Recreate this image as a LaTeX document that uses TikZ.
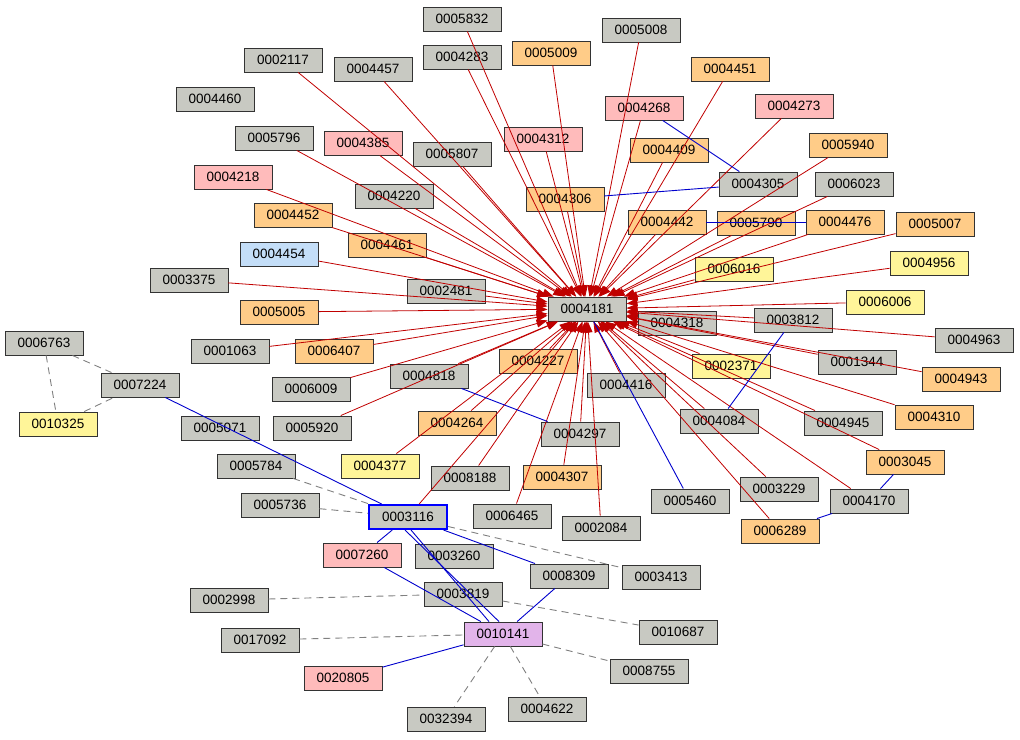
\documentclass[tikz,border=0pt]{standalone}
\usepackage{fontspec}
\setmainfont{Liberation Sans}
\usetikzlibrary{arrows.meta}
\definecolor{cgr}{HTML}{C8C9C2}
\definecolor{cog}{HTML}{FFCC88}
\definecolor{cpk}{HTML}{FFBBBB}
\definecolor{cyl}{HTML}{FFF599}
\definecolor{cbl}{HTML}{C4DEF8}
\definecolor{cpu}{HTML}{E2B4EA}
\definecolor{cred}{HTML}{C00000}
\tikzset{
  box/.style={draw=black!80,line width=0.9pt,minimum width=78pt,minimum height=24pt,inner sep=0pt,font=\fontsize{13.5}{15}\selectfont},
  gr/.style={box,fill=cgr},
  og/.style={box,fill=cog},
  pk/.style={box,fill=cpk},
  yl/.style={box,fill=cyl},
  bl/.style={box,fill=cbl},
  pu/.style={box,fill=cpu},
  redl/.style={cred,line width=0.8pt,-{Triangle[length=11pt,width=8pt]}},
  bluel/.style={blue!80!black,line width=0.9pt},
  dashl/.style={gray,line width=0.9pt,dash pattern=on 7pt off 5pt}
}
\begin{document}
\begin{tikzpicture}[x=1pt,y=-1pt]
\useasboundingbox (0,0) rectangle (1020,739);
% nodes
\node[gr] (n4181) at (587,309) {0004181};
\node[gr] (n5832) at (462,19) {0005832};
\node[gr] (n5008) at (641,30) {0005008};
\node[gr] (n2117) at (283,60) {0002117};
\node[gr] (n4457) at (373,69) {0004457};
\node[gr] (n4283) at (462,57) {0004283};
\node[og] (n5009) at (551,53) {0005009};
\node[og] (n4451) at (730,69) {0004451};
\node[gr] (n4460) at (215,99) {0004460};
\node[pk] (n4268) at (644,108) {0004268};
\node[pk] (n4273) at (794,106) {0004273};
\node[gr] (n5796) at (274,138) {0005796};
\node[pk] (n4385) at (363,143) {0004385};
\node[pk] (n4312) at (543,139) {0004312};
\node[gr] (n5807) at (452,154) {0005807};
\node[og] (n4409) at (669,150) {0004409};
\node[og] (n5940) at (848,145) {0005940};
\node[pk] (n4218) at (233,177) {0004218};
\node[gr] (n4220) at (394,196) {0004220};
\node[og] (n4306) at (565,199) {0004306};
\node[gr] (n4305) at (758,184) {0004305};
\node[gr] (n6023) at (854,184) {0006023};
\node[og] (n4452) at (293,215) {0004452};
\node[og] (n4442) at (667,222) {0004442};
\node[og] (n5790) at (756,223) {0005790};
\node[og] (n4476) at (845,222) {0004476};
\node[og] (n5007) at (935,224) {0005007};
\node[og] (n4461) at (387,245) {0004461};
\node[bl] (n4454) at (279,254) {0004454};
\node[yl] (n6016) at (734,269) {0006016};
\node[yl] (n4956) at (929,263) {0004956};
\node[gr] (n3375) at (189,280) {0003375};
\node[gr] (n2481) at (446,291) {0002481};
\node[yl] (n6006) at (885,302) {0006006};
\node[og] (n5005) at (279,312) {0005005};
\node[gr] (n4318) at (677,323) {0004318};
\node[gr] (n3812) at (793,320) {0003812};
\node[gr] (n4963) at (974,340) {0004963};
\node[gr] (n6763) at (44,343) {0006763};
\node[gr] (n1063) at (230,351) {0001063};
\node[og] (n6407) at (334,351) {0006407};
\node[og] (n4227) at (538,361) {0004227};
\node[gr] (n1344) at (857,362) {0001344};
\node[yl] (n2371) at (731,366) {0002371};
\node[gr] (n4818) at (429,376) {0004818};
\node[og] (n4943) at (961,379) {0004943};
\node[gr] (n7224) at (140,385) {0007224};
\node[gr] (n6009) at (311,389) {0006009};
\node[gr] (n4416) at (626,385) {0004416};
\node[yl] (n10325) at (58,424) {0010325};
\node[gr] (n5071) at (220,428) {0005071};
\node[gr] (n5920) at (312,428) {0005920};
\node[og] (n4264) at (457,423) {0004264};
\node[gr] (n4297) at (580,434) {0004297};
\node[gr] (n4084) at (719,421) {0004084};
\node[gr] (n4945) at (843,423) {0004945};
\node[og] (n4310) at (934,417) {0004310};
\node[gr] (n5784) at (256,466) {0005784};
\node[yl] (n4377) at (380,466) {0004377};
\node[gr] (n8188) at (470,478) {0008188};
\node[og] (n4307) at (562,477) {0004307};
\node[og] (n3045) at (905,462) {0003045};
\node[gr] (n5736) at (280,505) {0005736};
\node[gr,draw=blue,line width=2pt] (n3116) at (408,517) {0003116};
\node[gr] (n6465) at (512,516) {0006465};
\node[gr] (n5460) at (690,501) {0005460};
\node[gr] (n3229) at (779,489) {0003229};
\node[gr] (n4170) at (869,501) {0004170};
\node[gr] (n2084) at (601,528) {0002084};
\node[og] (n6289) at (780,531) {0006289};
\node[pk] (n7260) at (362,555) {0007260};
\node[gr] (n3260) at (454,556) {0003260};
\node[gr] (n8309) at (569,576) {0008309};
\node[gr] (n3413) at (661,577) {0003413};
\node[gr] (n2998) at (229,600) {0002998};
\node[gr] (n3819) at (463,594) {0003819};
\node[gr] (n10687) at (678,632) {0010687};
\node[gr] (n17092) at (260,640) {0017092};
\node[pu] (n10141) at (503,634) {0010141};
\node[gr] (n8755) at (649,671) {0008755};
\node[pk] (n20805) at (343,678) {0020805};
\node[gr] (n32394) at (446,719) {0032394};
\node[gr] (n4622) at (547,709) {0004622};
% connectors
\foreach \s in {5832,5008,2117,4457,4283,5009,4451,4268,4273,5796,4385,4312,5807,4409,5940,4218,4220,4306,6023,4452,4442,5790,4476,5007,4461,4454,6016,4956,3375,2481,6006,5005,4318,3812,4963,1063,6407,4227,1344,2371,4818,4943,6009,4416,5920,4264,4297,4084,4945,4310,4377,8188,4307,3045,3116,6465,3229,4170,2084,6289}
  \draw[redl] (n\s) -- (n4181);
\draw[bluel] (n4268) -- (n4305);
\draw[bluel] (n4306) -- (n4305);
\draw[bluel] (n4442) -- (n4476);
\draw[bluel] (n3812) -- (n4084);
\draw[bluel] (n4181) -- (n5460);
\draw[bluel] (n4818) -- (n4297);
\draw[bluel] (n7224) -- (n3116);
\draw[bluel] (n3116) -- (n8309);
\draw[bluel] ([xshift=-3pt]n3116.south) -- ([xshift=-4pt]n10141.north);
\draw[bluel] ([xshift=3pt]n3116.south) -- ([xshift=-14pt]n10141.north);
\draw[bluel] (n3116) -- (n7260);
\draw[bluel] (n7260) -- (n10141);
\draw[bluel] (n8309) -- (n10141);
\draw[bluel] (n20805) -- (n10141);
\draw[bluel] (n4170) -- (n6289);
\draw[bluel] (n4170) -- (n3045);
\draw[dashl] (n6763) -- (n7224);
\draw[dashl] (n6763) -- (n10325);
\draw[dashl] (n10325) -- (n7224);
\draw[dashl] (n5784) -- (n3116);
\draw[dashl] (n5736) -- (n3116);
\draw[dashl] (n3116) -- (n3413);
\draw[dashl] (n2998) -- (n3819);
\draw[dashl] (n3819) -- (n10687);
\draw[dashl] (n17092) -- (n10141);
\draw[dashl] (n10141) -- (n8755);
\draw[dashl] (n10141) -- (n32394);
\draw[dashl] (n10141) -- (n4622);
\end{tikzpicture}
\end{document}
